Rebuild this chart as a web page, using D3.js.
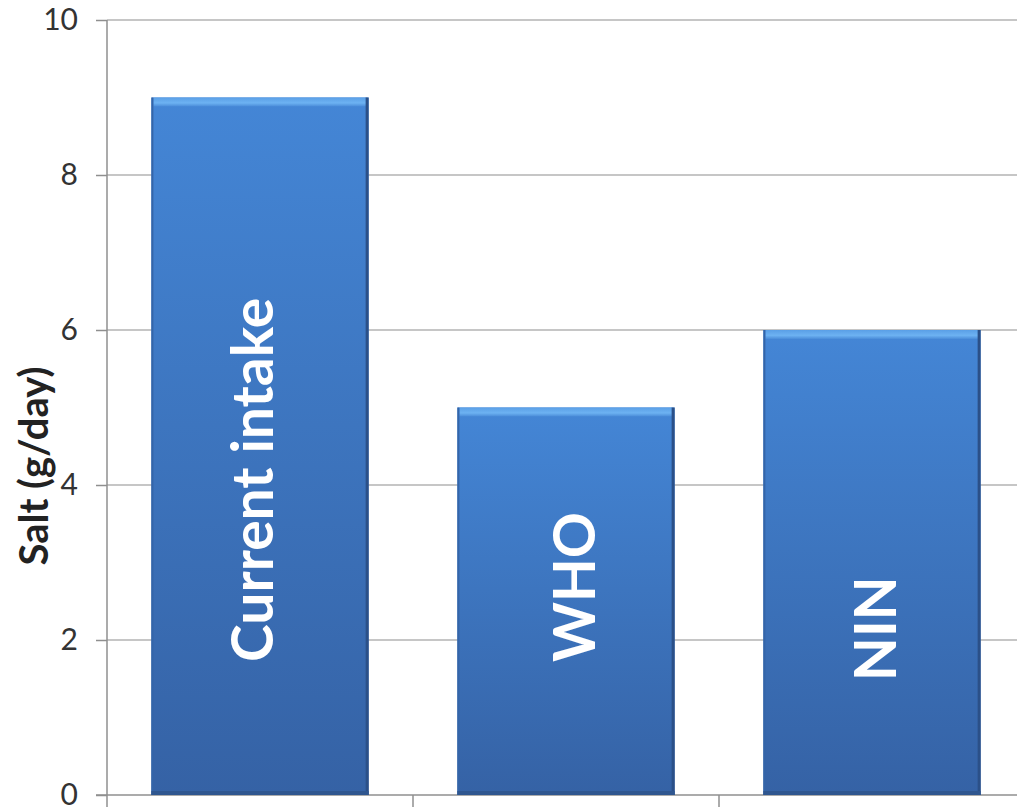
<!DOCTYPE html>
<html>
<head>
  <title>salt</title>
  <script src="https://d3js.org/d3.v7.min.js"></script>
  <style>
    body { margin: 0; background: #fff; }
    text { font-family: Lato, "Open Sans", sans-serif; }
  </style>
</head>
<body>
  <svg width="1017" height="807" id="mainsvg"></svg>
  <script>
    // chart data
    const categories = ['Current intake', 'WHO', 'NIN'];
    const values = [9, 5, 6];
    const yTicks = [0, 2, 4, 6, 8, 10];

    let svg = d3.select('#mainsvg');
    const x0 = 107, yTop = 20, yBottom = 795;

    let y = d3.scaleLinear().domain([0, 10]).range([yBottom, yTop]);
    let x = d3.scaleBand().domain(categories)
      .range([x0, x0 + 306 * 3])
      .paddingInner(0.29).paddingOuter(0.145);

    // gradients
    let defs = svg.append('defs');
    let g1 = defs.append('linearGradient').attr('id', 'barFill')
      .attr('x1', 0).attr('y1', 0).attr('x2', 0).attr('y2', 1);
    g1.append('stop').attr('offset', '0%').attr('stop-color', '#4486d6');
    g1.append('stop').attr('offset', '100%').attr('stop-color', '#3562a5');

    let g2 = defs.append('linearGradient').attr('id', 'bevel')
      .attr('x1', 0).attr('y1', 0).attr('x2', 0).attr('y2', 1);
    g2.append('stop').attr('offset', '0%').attr('stop-color', '#5a9fe6');
    g2.append('stop').attr('offset', '60%').attr('stop-color', '#6db2f2');
    g2.append('stop').attr('offset', '100%').attr('stop-color', '#4a8cd9');

    // gridlines
    svg.append('g').selectAll('line').data(yTicks.filter(d => d > 0))
      .enter().append('line')
      .attr('x1', x0).attr('x2', 1017)
      .attr('y1', d => y(d)).attr('y2', d => y(d))
      .attr('stroke', '#b3b3b3').attr('stroke-width', 1.5);

    // y axis
    let yAxis = d3.axisLeft(y).tickValues(yTicks).tickSize(11).tickPadding(18);
    let ya = svg.append('g').attr('transform', `translate(${x0},0)`).call(yAxis);
    ya.select('.domain').attr('stroke', '#8f8f8f').attr('stroke-width', 1.5)
      .attr('d', `M0,${yTop}V${yBottom + 12}`);
    ya.selectAll('.tick line').attr('stroke', '#8f8f8f').attr('stroke-width', 1.5);
    ya.selectAll('.tick text').attr('font-size', 30).attr('fill', '#333')
      .attr('font-family', 'Lato, sans-serif');

    // x axis
    let xa = svg.append('g');
    xa.append('line').attr('x1', x0 - 11).attr('x2', 1017)
      .attr('y1', yBottom).attr('y2', yBottom)
      .attr('stroke', '#8f8f8f').attr('stroke-width', 1.5);
    xa.selectAll('.xt').data(categories.slice(1)).enter().append('line')
      .attr('x1', d => x(d) - x.step() * 0.145).attr('x2', d => x(d) - x.step() * 0.145)
      .attr('y1', yBottom).attr('y2', yBottom + 12)
      .attr('stroke', '#8f8f8f').attr('stroke-width', 1.5);

    // bars
    let bars = svg.append('g').selectAll('g').data(categories).enter().append('g');
    bars.append('rect')
      .attr('x', d => x(d)).attr('width', x.bandwidth())
      .attr('y', (d, i) => y(values[i])).attr('height', (d, i) => yBottom - y(values[i]))
      .attr('fill', 'url(#barFill)');
    bars.append('rect')
      .attr('x', d => x(d) + 2).attr('width', x.bandwidth() - 4)
      .attr('y', (d, i) => y(values[i])).attr('height', 9)
      .attr('fill', 'url(#bevel)');
    bars.append('rect')
      .attr('x', d => x(d) + x.bandwidth() - 3).attr('width', 3)
      .attr('y', (d, i) => y(values[i])).attr('height', (d, i) => yBottom - y(values[i]))
      .attr('fill', '#2b5088');
    bars.append('rect')
      .attr('x', d => x(d)).attr('width', 2)
      .attr('y', (d, i) => y(values[i])).attr('height', (d, i) => yBottom - y(values[i]))
      .attr('fill', '#3465a8');
    bars.append('rect')
      .attr('x', d => x(d)).attr('width', x.bandwidth())
      .attr('y', yBottom - 4).attr('height', 4)
      .attr('fill', '#2f568f');

    // bar labels
    bars.append('text')
      .attr('transform', (d, i) => {
        const cx = x(d) + x.bandwidth() / 2 + [-2, 14, 9][i];
        const by = i === 2 ? 681 : 662;
        return `translate(${cx},${by}) rotate(-90)`;
      })
      .attr('dominant-baseline', 'middle')
      .attr('font-size', 57).attr('font-weight', 'bold').attr('fill', '#fff')
      .text(d => d);

    // y title
    svg.append('text')
      .attr('transform', `translate(38,466) rotate(-90)`)
      .attr('text-anchor', 'middle').attr('dominant-baseline', 'middle')
      .attr('font-size', 40).attr('font-weight', 'bold').attr('fill', '#222')
      .text('Salt (g/day)');
  </script>
</body>
</html>
